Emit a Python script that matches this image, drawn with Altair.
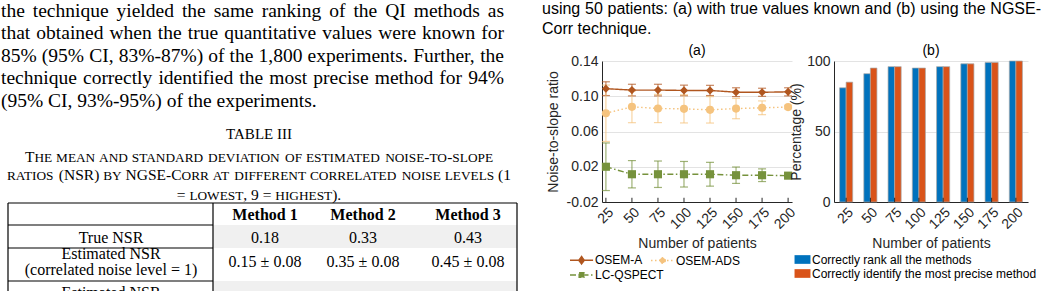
import altair as alt
import pandas as pd

# ---------------- data ----------------
patients = [25, 50, 75, 100, 125, 150, 175, 200]
methods = ["OSEM-A", "OSEM-ADS", "LC-QSPECT"]
osem_a = [0.1086, 0.1070, 0.1070, 0.1066, 0.1066, 0.1046, 0.1045, 0.1050]
osem_a_sd = [0.0078, 0.0066, 0.0066, 0.0060, 0.0058, 0.0050, 0.0046, 0.0046]
osem_ads = [0.0807, 0.0880, 0.0861, 0.0857, 0.0846, 0.0860, 0.0869, 0.0877]
osem_ads_sd = [0.0320, 0.0180, 0.0160, 0.0160, 0.0150, 0.0115, 0.0078, 0.0020]
lc_qspect = [0.0200, 0.0115, 0.0115, 0.0115, 0.0115, 0.0104, 0.0104, 0.0099]
lc_qspect_sd = [0.0270, 0.0155, 0.0150, 0.0145, 0.0135, 0.0093, 0.0072, 0.0010]

bar_series = ["Correctly rank all the methods", "Correctly identify the most precise method"]
rank_all = [81, 91, 96, 95, 96, 98, 99, 100]
most_precise = [85, 95, 96, 95, 96, 98, 99, 100]

nsr_domain = [-0.02, 0.14]
nsr_ticks = [-0.02, 0.02, 0.06, 0.10, 0.14]
pct_domain = [0, 100]
pct_ticks = [0, 50, 100]

figure_caption = [
    "using 50 patients: (a) with true values known and (b) using the NGSE-",
    "Corr technique.",
]
body_lines = [
    "the technique yielded the same ranking of the QI methods as",
    "that obtained when the true quantitative values were known for",
    "85% (95% CI, 83%-87%) of the 1,800 experiments. Further, the",
    "technique correctly identified the most precise method for 94%",
    "(95% CI, 93%-95%) of the experiments.",
]
table_title = "TABLE III"
table_caption = [
    "The mean and standard deviation of estimated noise-to-slope",
    "ratios (NSR) by NGSE-Corr at different correlated noise levels (1",
    "= lowest, 9 = highest).",
]
table_header = ["Method 1", "Method 2", "Method 3"]
row_labels = ["True NSR", "Estimated NSR", "(correlated noise level = 1)", "Estimated NSR"]
true_nsr = ["0.18", "0.33", "0.43"]
est_nsr_1 = ["0.15 \u00b1 0.08", "0.35 \u00b1 0.08", "0.45 \u00b1 0.08"]

# ---------------- styles ----------------
method_colors = ["#B0561F", "#F5C37E", "#76923C"]
method_shapes = ["diamond", "circle", "square"]
method_dashes = [[1, 0], [1.5, 2.5], [6, 2.5, 1.5, 2.5]]
legend_paths = [
    "M-1,0H2.3M0.65,-0.55L1.05,0L0.65,0.55L0.25,0Z",
    "M-1,0H2.3M1.05,0A0.4,0.4 0 1,1 0.25,0A0.4,0.4 0 1,1 1.05,0Z",
    "M-1,0H2.3M0.3,-0.35H1V0.35H0.3Z",
]
bar_colors = ["#0072BD", "#D95319"]
SANS = "Liberation Sans"
SERIF = "Liberation Serif"
INK = "#262626"

# glyph advance widths (per 1000 em) used to lay out justified text
TIMES = dict(zip(
    " !%(),-.0123456789:=ABCDEFGHIJKLMNOPQRSTUVWXYZabcdefghijklmnopqrstuvwxyz",
    [250, 333, 833, 333, 333, 250, 333, 250] + [500] * 10 + [278, 564]
    + [722, 667, 667, 722, 611, 556, 722, 722, 333, 389, 722, 611, 889, 722, 722, 556, 722, 667,
       556, 611, 722, 722, 944, 722, 722, 611]
    + [444, 500, 444, 500, 444, 333, 500, 500, 278, 278, 500, 278, 778, 500, 500, 500, 500, 333,
       389, 278, 500, 500, 722, 500, 500, 444]))
ARIAL = dict(zip(
    " !%(),-.0123456789:=ABCDEFGHIJKLMNOPQRSTUVWXYZabcdefghijklmnopqrstuvwxyz",
    [278, 278, 889, 333, 333, 278, 333, 278] + [556] * 10 + [278, 584]
    + [667, 667, 722, 722, 667, 611, 778, 722, 278, 500, 667, 556, 833, 722, 778, 667, 778, 722,
       667, 611, 722, 667, 944, 667, 667, 611]
    + [556, 556, 500, 556, 556, 278, 556, 556, 222, 222, 500, 222, 833, 556, 556, 556, 556, 333,
       500, 278, 556, 500, 722, 500, 500, 500]))


def width(s, table, size):
    return sum(table.get(c, 500) for c in s) * size / 1000.0


def justified(lines, x0, x1, y0, dy, size, table):
    words, last = [], []
    for i, line in enumerate(lines):
        y = y0 + i * dy
        if i == len(lines) - 1:
            last.append({"t": line, "x": x0, "y": y})
            continue
        ws = line.split(" ")
        wd = [width(w, table, size) for w in ws]
        gap = (x1 - x0 - sum(wd)) / (len(ws) - 1)
        x = x0
        for w, d in zip(ws, wd):
            words.append({"t": w, "x": x + d / 2, "y": y})
            x += d + gap
    return pd.DataFrame(words), pd.DataFrame(last)


def small_caps(lines, cx, ys, big, small):
    out = []
    for line, y in zip(lines, ys):
        items, x, cur = [], 0.0, None
        for ch in line:
            if ch == " ":
                cur = None
                x += width(" ", TIMES, big)
                continue
            sz, c = (small, ch.upper()) if ch.islower() else (big, ch)
            if cur is not None and cur["s"] == sz:
                cur["t"] += c
            else:
                cur = {"t": c, "s": sz, "x": x}
                items.append(cur)
            x += width(c, TIMES, sz)
        shift = cx - x / 2
        for it in items:
            out.append({"t": it["t"], "x": it["x"] + shift, "y": y, "s": it["s"]})
    return pd.DataFrame(out)


def px_text(df, sized=False, **kw):
    enc = dict(x=alt.X("x:Q", scale=None, axis=None), y=alt.Y("y:Q", scale=None, axis=None), text="t:N")
    if sized:
        enc["size"] = alt.Size("s:Q", scale=None, legend=None)
    return alt.Chart(df).mark_text(baseline="alphabetic", **kw).encode(**enc)


# ---------------- left page column (text + table) ----------------
BODY = 19.5
bw, bl = justified(body_lines, 0, 503, 15.5, 22.6, BODY, TIMES)
body_words = px_text(bw, align="center", font=SERIF, fontSize=BODY, color="black")
body_last = px_text(bl, align="left", font=SERIF, fontSize=BODY, color="black")

ttl = px_text(pd.DataFrame({"t": [table_title], "x": [258], "y": [138]}),
              align="center", font=SERIF, fontSize=15, color="black")
cap = px_text(small_caps(table_caption, 258, [160.5, 179, 198.5], 15.5, 13.3), sized=True,
              align="left", font=SERIF, color="black")

col_x = [264, 362, 467]
hdr = px_text(pd.DataFrame({"t": table_header, "x": col_x, "y": 219}),
              align="center", font=SERIF, fontSize=16, fontWeight="bold", color="black")
cells_df = pd.DataFrame({
    "t": row_labels[:3] + true_nsr + est_nsr_1,
    "x": [110, 110, 110] + col_x + col_x,
    "y": [242, 258, 274] + [242] * 3 + [266] * 3,
})
cells = px_text(cells_df, align="center", font=SERIF, fontSize=16, color="black")
cut = px_text(pd.DataFrame({"t": row_labels[3:], "x": [110], "y": [297]}),
              align="center", font=SERIF, fontSize=16, color="black", clip=True)

shade_df = pd.DataFrame({"x": [212, 212], "x2": [516, 516], "y": [224, 280], "y2": [247, 291]})
shade = alt.Chart(shade_df).mark_rect(color="#f0f0f0", clip=True).encode(
    x=alt.X("x:Q", scale=None, axis=None), x2="x2:Q",
    y=alt.Y("y:Q", scale=None, axis=None), y2="y2:Q",
)
lines_df = pd.DataFrame({
    "x": [7, 7, 212, 516, 7, 7, 7],
    "x2": [516, 7, 212, 516, 212, 212, 212],
    "y": [202, 202, 202, 202, 224, 247, 280],
    "y2": [202, 291, 291, 291, 224, 247, 280],
})
rules = alt.Chart(lines_df).mark_rule(color="black", strokeWidth=1.2).encode(
    x=alt.X("x:Q", scale=None, axis=None), x2="x2:Q",
    y=alt.Y("y:Q", scale=None, axis=None), y2="y2:Q",
)
left = alt.layer(shade, rules, body_words, body_last, ttl, cap, hdr, cells, cut).properties(
    width=520, height=291)

# ---------------- figure caption ----------------
cw, cl = justified(figure_caption, -60, 439, 12.5, 20, 16, ARIAL)
fig_cap = alt.layer(
    px_text(cw, align="center", font=SANS, fontSize=16, color="black"),
    px_text(cl, align="left", font=SANS, fontSize=16, color="black"),
).properties(width=426, height=60)

# ---------------- panel (a) ----------------
rows = []
for m, vals, sds in zip(methods, [osem_a, osem_ads, lc_qspect], [osem_a_sd, osem_ads_sd, lc_qspect_sd]):
    for n, v, s in zip(patients, vals, sds):
        rows.append({"n": n, "method": m, "v": v, "lo": v - s, "hi": v + s})
nsr = pd.DataFrame(rows)

yscale = alt.Scale(domain=nsr_domain, nice=False, zero=False)
yaxis = alt.Axis(title="Noise-to-slope ratio", values=nsr_ticks, grid=True, ticks=False,
                 labelPadding=4, titlePadding=6, labelOverlap=False,
                 labelExpr="replace(format(datum.value, '.2f'), '\u2212', '-')")
xa = alt.X("n:O", scale=alt.Scale(type="point", padding=0.15),
           axis=alt.Axis(title="Number of patients", labelAngle=315, ticks=False, labelPadding=3,
                         titlePadding=5))
ya = alt.Y("v:Q", scale=yscale, axis=yaxis)
col = alt.Color("method:N", scale=alt.Scale(domain=methods, range=method_colors), legend=None)

# inward x ticks (MATLAB style): short rules rising from the bottom of the axis
tick_a = alt.Chart(pd.DataFrame({"n": patients})).transform_calculate(
    t0=str(nsr_domain[0]), t1=str(nsr_domain[0] + 0.03 * (nsr_domain[1] - nsr_domain[0]))
).mark_rule(color=INK, strokeWidth=1).encode(
    x=xa, y=alt.Y("t0:Q", scale=yscale, axis=yaxis), y2="t1:Q")

err = alt.Chart(nsr).mark_errorbar(ticks={"size": 8, "thickness": 1.2}, thickness=1.2, opacity=0.7).encode(
    x=xa, y=alt.Y("lo:Q", scale=yscale, axis=yaxis), y2="hi:Q", color=col)
lin = alt.Chart(nsr).mark_line(strokeWidth=1.4).encode(
    x=xa, y=ya, color=col,
    strokeDash=alt.StrokeDash("method:N", scale=alt.Scale(domain=methods, range=method_dashes), legend=None))
pts = alt.Chart(nsr).mark_point(filled=True, opacity=1, size=66).encode(
    x=xa, y=ya, color=col,
    shape=alt.Shape("method:N", scale=alt.Scale(domain=methods, range=method_shapes), legend=None))


def legend_layer(idx, ly):
    dom = [methods[i] for i in idx]
    lg = alt.Legend(title=None, orient="none", legendX=-33, legendY=ly, direction="horizontal",
                    symbolSize=196, symbolStrokeWidth=1.3, labelOffset=10, columnPadding=5,
                    labelFont=SANS, labelFontSize=12, labelColor="black", labelLimit=0)
    return alt.Chart(pd.DataFrame({"method": dom})).transform_filter("false").mark_point(
        filled=True, opacity=1).encode(
        fill=alt.Fill("method:N", scale=alt.Scale(domain=dom, range=[method_colors[i] for i in idx]), legend=lg),
        stroke=alt.Stroke("method:N", scale=alt.Scale(domain=dom, range=[method_colors[i] for i in idx]), legend=lg),
        shape=alt.Shape("method:N", scale=alt.Scale(domain=dom, range=[legend_paths[i] for i in idx]), legend=lg),
        strokeDash=alt.StrokeDash("method:N", scale=alt.Scale(domain=dom, range=[method_dashes[i] for i in idx]),
                                  legend=lg),
    )


INDEP = dict(color="independent", shape="independent", strokeDash="independent",
             fill="independent", stroke="independent")

panel_a = alt.layer(tick_a, err, lin, pts, legend_layer([0, 1], 191), legend_layer([2], 206)).resolve_scale(
    **INDEP).properties(
    width=190, height=141,
    title=alt.TitleParams("(a)", font=SANS, fontSize=14, fontWeight="normal", color="black", offset=-4))

# ---------------- panel (b) ----------------
bars_rows = []
for s, vals in zip(bar_series, [rank_all, most_precise]):
    for n, v in zip(patients, vals):
        bars_rows.append({"n": n, "series": s, "pct": v})
bars = pd.DataFrame(bars_rows)

xb = alt.X("n:O", scale=alt.Scale(paddingInner=0.46, paddingOuter=0.23),
           axis=alt.Axis(title="Number of patients", labelAngle=315, ticks=False, labelPadding=3,
                         titlePadding=5))
yb_scale = alt.Scale(domain=pct_domain, nice=False)
yb_axis = alt.Axis(title="Percentage (%)", values=pct_ticks, grid=True, ticks=False,
                   labelPadding=4, titlePadding=3)

bar_layer = alt.Chart(bars).mark_bar(stroke="#a8a8a8", strokeWidth=0.7).encode(
    x=xb,
    xOffset=alt.XOffset("series:N", scale=alt.Scale(domain=bar_series)),
    y=alt.Y("pct:Q", scale=yb_scale, axis=yb_axis),
    color=alt.Color("series:N", scale=alt.Scale(domain=bar_series, range=bar_colors),
                    legend=alt.Legend(title=None, orient="none", legendX=-39, legendY=191,
                                      symbolType="M-1.1,-0.6H1.1V0.6H-1.1Z", symbolSize=210,
                                      symbolStrokeWidth=0, labelOffset=2, rowPadding=0, labelLimit=0,
                                      labelFont=SANS, labelFontSize=12, labelColor="black")),
)
tick_b = alt.Chart(pd.DataFrame({"n": patients})).transform_calculate(
    t0=str(pct_domain[0]), t1=str(pct_domain[0] + 0.03 * (pct_domain[1] - pct_domain[0]))
).mark_rule(color=INK, strokeWidth=1).encode(
    x=xb, y=alt.Y("t0:Q", scale=yb_scale, axis=yb_axis), y2="t1:Q")

panel_b = alt.layer(bar_layer, tick_b).properties(
    width=194, height=141,
    title=alt.TitleParams("(b)", font=SANS, fontSize=14, fontWeight="normal", color="black", offset=-4))

panels = alt.hconcat(panel_a, panel_b, spacing=42, bounds="flush").resolve_scale(**INDEP).resolve_legend(
    color="independent")
right = alt.vconcat(fig_cap, panels, spacing=0, bounds="flush").resolve_scale(**INDEP)

chart = alt.hconcat(left, right, spacing=81, bounds="flush").resolve_scale(**INDEP).properties(
    padding=0, background="white"
).configure_view(strokeWidth=0).configure_axis(
    domainColor=INK, domainWidth=1, labelColor=INK, titleColor=INK, gridColor="#e3e3e3",
    labelFont=SANS, titleFont=SANS, labelFontSize=14, titleFontSize=14, titleFontWeight="normal",
)

chart.save("out.html", embed_options={"renderer": "svg", "actions": False})
